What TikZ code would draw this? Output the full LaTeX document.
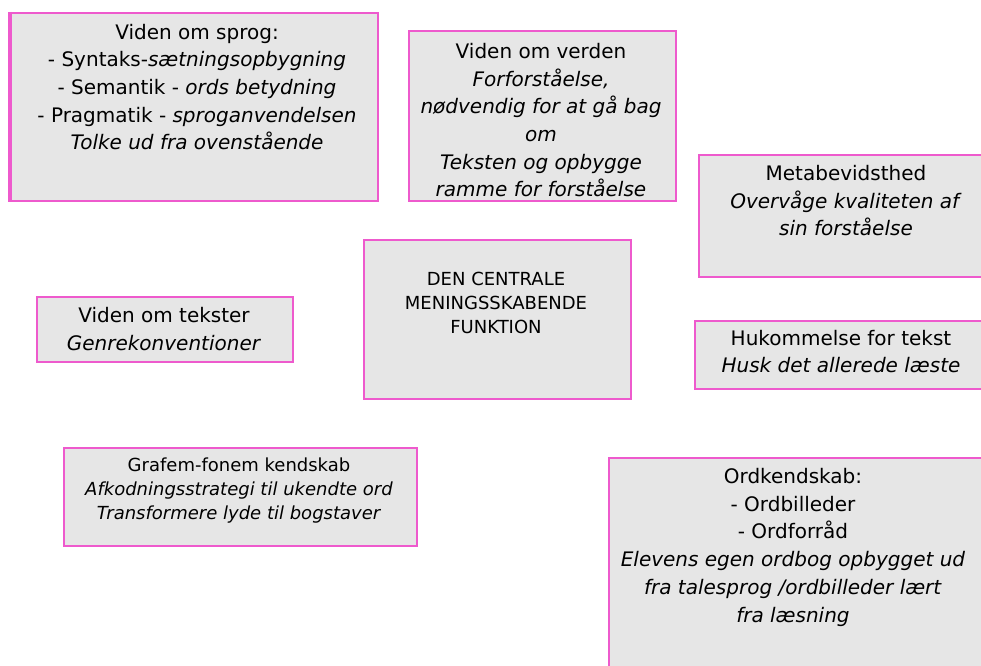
\documentclass[tikz,border=0pt]{standalone}
\usepackage{fontspec}
\setmainfont{DejaVu Sans}
\definecolor{edge}{HTML}{EE5ACD}
\definecolor{boxfill}{HTML}{E6E6E6}
\tikzset{
  box/.style={draw=edge, fill=boxfill, line width=1.6pt, rectangle, inner sep=0pt, anchor=north west},
  big/.style={align=center, inner sep=0pt, anchor=base, font=\fontsize{15}{20.8}\selectfont},
  small/.style={align=center, inner sep=0pt, anchor=base, font=\fontsize{13.5}{18}\selectfont},
}
\begin{document}
\begin{tikzpicture}[x=0.75pt,y=-0.75pt]
\useasboundingbox (0,0) rectangle (981,666);
\clip (0,0) rectangle (981,666);
% boxes
\node[box, minimum width=369*0.75pt, minimum height=188*0.75pt] (sprogbox) at (8,12) {};
\draw[edge, line width=1.6pt] (sprogbox.north west) ++(3,0) -- ++(0,188);
\node[box, minimum width=267*0.75pt, minimum height=170*0.75pt] (verdenbox) at (408,30) {};
\node[box, minimum width=300*0.75pt, minimum height=122*0.75pt] (metabox) at (698,154) {};
\node[box, minimum width=300*0.75pt, minimum height=68*0.75pt] (hukbox) at (694,320) {};
\node[box, minimum width=256*0.75pt, minimum height=65*0.75pt] (tekstbox) at (36,296) {};
\node[box, minimum width=267*0.75pt, minimum height=159*0.75pt] (centralbox) at (363,239) {};
\node[box, minimum width=353*0.75pt, minimum height=98*0.75pt] (grafembox) at (63,447) {};
\node[box, minimum width=390*0.75pt, minimum height=230*0.75pt] (ordbox) at (608,457) {};
% texts (anchored at the baseline of the last line)
\node[big] (sprog) at (197,150) {Viden om sprog:\\- Syntaks-\textit{sætningsopbygning}\\- Semantik - \textit{ords betydning}\\- Pragmatik - \textit{sproganvendelsen}\\\textit{Tolke ud fra ovenstående}};
\node[big] (verden) at (541,197) {Viden om verden\\\textit{Forforståelse,}\\\textit{nødvendig for at gå bag}\\\textit{om}\\\textit{Teksten og opbygge}\\\textit{ramme for forståelse}};
\node[big] (meta) at (846,236) {Metabevidsthed\\\textit{Overvåge kvaliteten af}\\\textit{sin forståelse}};
\node[big] (huk) at (841,373) {Hukommelse for tekst\\\textit{Husk det allerede læste}};
\node[big] (tekst) at (164,350) {Viden om tekster\\\textit{Genrekonventioner}};
\node[small] (central) at (496,334) {DEN CENTRALE\\MENINGSSKABENDE\\FUNKTION};
\node[small] (grafem) at (239,519) {Grafem-fonem kendskab\\\textit{Afkodningsstrategi til ukendte ord}\\\textit{Transformere lyde til bogstaver}};
\node[big] (ord) at (793,622) {Ordkendskab:\\- Ordbilleder\\- Ordforråd\\\textit{Elevens egen ordbog opbygget ud}\\\textit{fra talesprog /ordbilleder lært}\\\textit{fra læsning}};
\end{tikzpicture}
\end{document}
